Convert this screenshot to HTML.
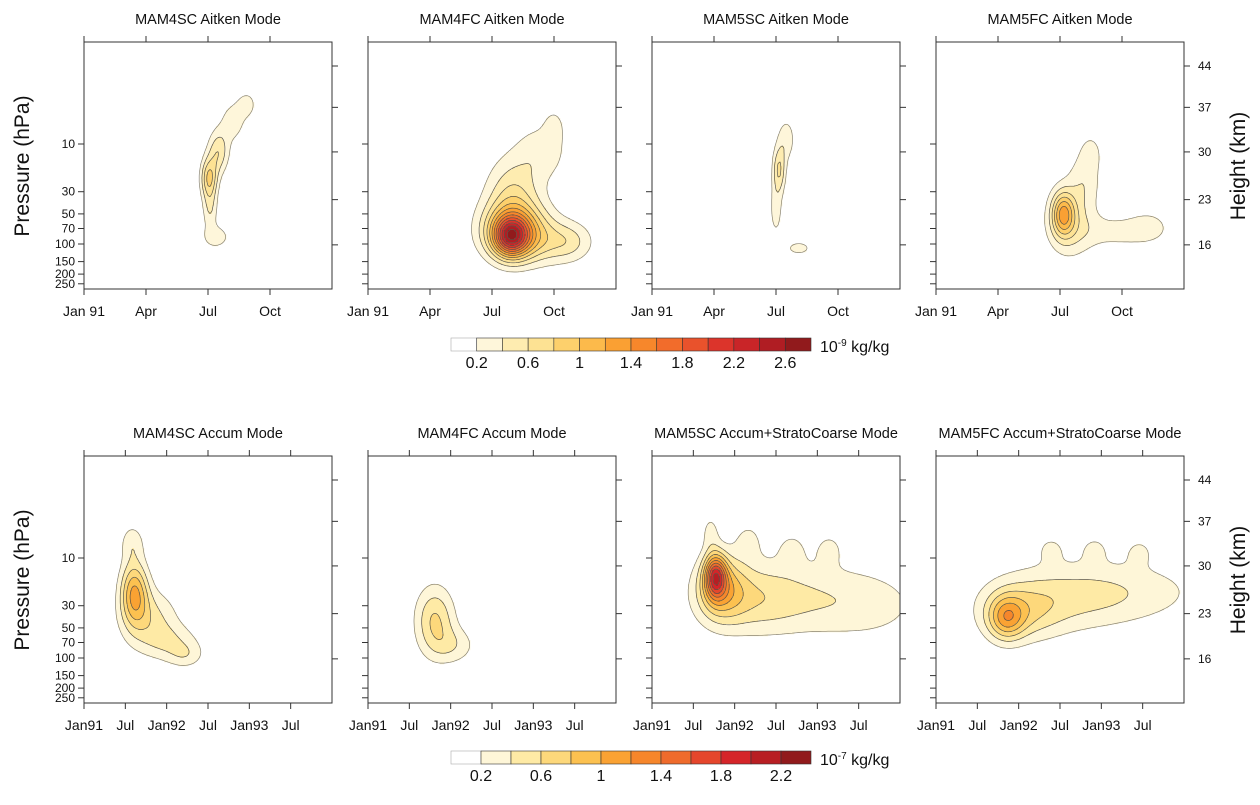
<!DOCTYPE html>
<html><head><meta charset="utf-8"><style>
html,body{margin:0;padding:0;background:#fff;}
svg{display:block;font-family:"Liberation Sans",Arial,sans-serif;}
</style></head><body>
<svg id="chart" width="1260" height="805" viewBox="0 0 1260 805" xmlns="http://www.w3.org/2000/svg"></svg>
<script>
// ---------- data ----------
// blob = [time (months since Jan 1991), pressure (hPa), amplitude, sigma-time (months), sigma-log10p (decades)]
const aitkenMam4sc = [[6.05,22,0.8,0.28,0.14],[6.5,12,0.55,0.35,0.15],[7.2,6,0.3,0.45,0.15],[7.9,4,0.26,0.35,0.1],[6.1,45,0.38,0.25,0.15],[6.4,85,0.33,0.45,0.08]];
const aitkenMam4fc = [[6.9,85,1.5,0.6,0.14],[7.1,70,1.0,1.1,0.2],[8.5,95,0.4,1.4,0.16],[9.8,95,0.25,0.7,0.13],[7.0,30,0.5,0.9,0.25],[8.4,12,0.32,0.9,0.2],[9.0,6.5,0.22,0.35,0.12]];
const aitkenMam5sc = [[6.15,18,0.6,0.22,0.16],[6.5,9,0.33,0.3,0.15],[6.0,45,0.3,0.22,0.2],[7.1,110,0.3,0.45,0.05]];
const aitkenMam5fc = [[6.15,50,0.95,0.38,0.15],[6.5,60,0.45,0.8,0.25],[7.2,22,0.3,0.55,0.2],[7.5,12,0.24,0.35,0.12],[9.0,75,0.28,1.5,0.12],[10.3,65,0.18,0.6,0.1]];
const accumMam4sc = [[7.3,22,0.95,1.4,0.22],[9.5,40,0.45,2.8,0.2],[12.5,70,0.33,3.0,0.13],[14.8,95,0.25,1.8,0.09],[7,7,0.3,1.2,0.13]];
const accumMam4fc = [[9.7,42,0.62,2.0,0.24],[12.5,75,0.3,2.3,0.13]];
const accumMam5sc = [[9.2,15,1.3,1.1,0.15],[10,20,0.7,2.4,0.22],[14,25,0.4,5,0.25],[22,25,0.3,7,0.26],[32,30,0.22,6,0.25],[8.5,5.5,0.25,0.9,0.13],[14,6.5,0.22,1.6,0.14],[20.3,8,0.22,1.5,0.12],[25.7,8,0.22,1.5,0.12]];
const accumMam5fc = [[10.2,40,0.7,1.8,0.15],[12,35,0.45,4,0.2],[18,25,0.33,7,0.25],[28,22,0.28,8,0.22],[16.7,8,0.2,1.5,0.1],[23,8,0.2,1.5,0.1],[29.5,8.5,0.2,1.5,0.1]];

const panelTitles = ["MAM4SC Aitken Mode","MAM4FC Aitken Mode","MAM5SC Aitken Mode","MAM5FC Aitken Mode","MAM4SC Accum Mode","MAM4FC Accum Mode","MAM5SC Accum+StratoCoarse Mode","MAM5FC Accum+StratoCoarse Mode"];
const panelData = [aitkenMam4sc,aitkenMam4fc,aitkenMam5sc,aitkenMam5fc,accumMam4sc,accumMam4fc,accumMam5sc,accumMam5fc];

const topLevels = [0.2,0.4,0.6,0.8,1.0,1.2,1.4,1.6,1.8,2.0,2.2,2.4,2.6];
const topColors = ["#ffffff","#fef6da","#feecb0","#fde293","#fdd06c","#fcba4b","#faa033","#f7872b","#f26c2b","#e9522c","#dc342b","#c92528","#b01d23","#911a1c"];
const topBarLabels = ["0.2","0.6","1","1.4","1.8","2.2","2.6"];
const botLevels = [0.2,0.4,0.6,0.8,1.0,1.2,1.4,1.6,1.8,2.0,2.2];
const botColors = ["#ffffff","#fef6d8","#feeaa5","#fdd87b","#fcc150","#faa233","#f6862b","#ef6b2c","#e5462c","#d52529","#b81e23","#911a1c"];
const botBarLabels = ["0.2","0.6","1","1.4","1.8","2.2"];

const pressureTicks = [10,30,50,70,100,150,200,250];
const heightTicks = [44,37,30,23,16];
const heightTickP = [1.66,4.3,12,36,102];
const topMonthTicks = [0,3,6,9];
const topMonthLabels = ["Jan 91","Apr","Jul","Oct"];
const botMonthTicks = [0,6,12,18,24,30];
const botMonthLabels = ["Jan91","Jul","Jan92","Jul","Jan93","Jul"];

// ---------- layout ----------
const NS = "http://www.w3.org/2000/svg";
const svg = document.getElementById("chart");
const PX = [84,368,652,936], PW = 248, PH = 247;
const PY = [42,456];
const LP_TOP = -0.02, LP_BOT = 2.45;

function mk(tag, attrs, parent){
  const e = document.createElementNS(NS, tag);
  for (const k in attrs) e.setAttribute(k, attrs[k]);
  (parent||svg).appendChild(e);
  return e;
}
function txt(s, attrs, parent){ const e = mk("text", attrs, parent); e.textContent = s; return e; }

function drawPanel(idx){
  const row = idx < 4 ? 0 : 1, col = idx % 4;
  const x0 = PX[col], y0 = PY[row];
  const tmax = row === 0 ? 12 : 36;
  const levels = row === 0 ? topLevels : botLevels;
  const colors = row === 0 ? topColors : botColors;
  const blobs = panelData[idx];
  const xs = t => x0 + t / tmax * PW;
  const ys = p => y0 + (Math.log10(p) - LP_TOP) / (LP_BOT - LP_TOP) * PH;
  const g = mk("g", {});
  
  
  const field = (px, py) => {
    const t = (px - x0) / PW * tmax;
    const lp = LP_TOP + (py - y0) / PH * (LP_BOT - LP_TOP);
    let v = 0;
    for (const b of blobs){
      const dt = (t - b[0]) / b[3], dl = (lp - Math.log10(b[1])) / b[4];
      v += b[2] * Math.exp(-0.5 * (dt*dt + dl*dl));
    }
    return v;
  };
  const S = 2, nx = Math.round(PW / S), ny = Math.round(PH / S) + 1;
  const grid = [];
  for (let j = 0; j <= ny; j++){ const r = []; for (let i = 0; i <= nx; i++) r.push(field(x0 + i*S, y0 + j*S)); grid.push(r); }
  const lvl = v => { let k = 0; while (k < levels.length && v >= levels[k]) k++; return k; };
  const fillG = mk("g", {}, g);
  
  
  for (let j = 0; j < ny; j++){
    let i = 0;
    while (i < nx){
      const k = lvl(field(x0 + (i+0.5)*S, y0 + (j+0.5)*S));
      let i2 = i + 1;
      while (i2 < nx && lvl(field(x0 + (i2+0.5)*S, y0 + (j+0.5)*S)) === k) i2++;
      if (k > 0){
        const hgt = Math.min(S, y0 + PH - (y0 + j*S));
        if (hgt > 0){
          const r = mk("rect", {x: x0 + i*S, y: y0 + j*S, width: (i2 - i)*S + 0.3, height: hgt + 0.3, fill: colors[k]}, fillG);
          
          
        }
      }
      i = i2;
    }
  }
  const lineG = mk("g", {}, g);
  
  
  levels.forEach((L, li) => {
    let d = "";
    for (let j = 0; j < ny; j++) for (let i = 0; i < nx; i++){
      const c = [grid[j][i], grid[j][i+1], grid[j+1][i+1], grid[j+1][i]];
      const pts = [[i,j],[i+1,j],[i+1,j+1],[i,j+1]];
      const hits = [];
      for (let e = 0; e < 4; e++){
        const a = c[e], b = c[(e+1)%4];
        if ((a >= L) !== (b >= L)){
          const f = (L - a) / (b - a);
          const pa = pts[e], pb = pts[(e+1)%4];
          hits.push([x0 + (pa[0] + f*(pb[0]-pa[0]))*S, y0 + (pa[1] + f*(pb[1]-pa[1]))*S]);
        }
      }
      for (let h = 0; h + 1 < hits.length; h += 2){
        if (hits[h][1] > y0 + PH || hits[h+1][1] > y0 + PH) continue;
        d += "M" + hits[h][0].toFixed(1) + " " + hits[h][1].toFixed(1) + "L" + hits[h+1][0].toFixed(1) + " " + hits[h+1][1].toFixed(1);
      }
    }
    if (d){
      const p = mk("path", {d: d, stroke: li === 0 ? "#8a8470" : "#5a5548", "stroke-width": 0.7, fill: "none"}, lineG);
      
      
    }
  });
  const fr = mk("rect", {x: x0, y: y0, width: PW, height: PH, fill: "none", stroke: "#333", "stroke-width": 1}, g);
  
  
  const mt = row === 0 ? topMonthTicks : botMonthTicks;
  const ml = row === 0 ? topMonthLabels : botMonthLabels;
  mt.forEach((m, k) => {
    const x = xs(m);
    mk("line", {x1: x, y1: y0, x2: x, y2: y0 - 6, stroke: "#333"}, g);
    mk("line", {x1: x, y1: y0 + PH, x2: x, y2: y0 + PH + 6, stroke: "#333"}, g);
    const t = txt(ml[k], {x: x, y: y0 + PH + 27, "font-size": 14, "text-anchor": "middle", fill: "#111"}, g);
    
    
  });
  pressureTicks.forEach(p => {
    const y = ys(p);
    mk("line", {x1: x0, y1: y, x2: x0 - 6, y2: y, stroke: "#333"}, g);
    if (col === 0){
      const t = txt(String(p), {x: x0 - 9, y: y + 4, "font-size": 12, "text-anchor": "end", fill: "#111"}, g);
      
      
    }
  });
  heightTickP.forEach((p, k) => {
    const y = ys(p);
    mk("line", {x1: x0 + PW, y1: y, x2: x0 + PW + 6, y2: y, stroke: "#333"}, g);
    if (col === 3){
      const t = txt(String(heightTicks[k]), {x: x0 + PW + 14, y: y + 4, "font-size": 12, fill: "#111"}, g);
      
      
    }
  });
  const tt = txt(panelTitles[idx], {x: x0 + PW/2, y: y0 - 18, "font-size": 14.5, "text-anchor": "middle", fill: "#111"}, g);
  
  
}
for (let i = 0; i < 8; i++) drawPanel(i);

[0,1].forEach(r => {
  const cy = PY[r] + 124;
  const a = txt("Pressure (hPa)", {x: 0, y: 0, "font-size": 21, "text-anchor": "middle", fill: "#111", transform: "translate(29," + cy + ") rotate(-90)"});
  
  
  const b = txt("Height (km)", {x: 0, y: 0, "font-size": 21, "text-anchor": "middle", fill: "#111", transform: "translate(1245," + cy + ") rotate(-90)"});
  
  
});

function colorbar(y, colors, labels, exp){
  const g = mk("g", {});
  
  
  const x0 = 451, w = 360, bw = w / colors.length;
  colors.forEach((c, k) => {
    const r = mk("rect", {x: x0 + k*bw, y: y, width: bw, height: 13, fill: c, stroke: k === 0 ? "#aaa" : "#333", "stroke-width": 0.6}, g);
    
    
  });
  labels.forEach((s, k) => {
    const t = txt(s, {x: x0 + (1 + 2*k)*bw, y: y + 30, "font-size": 16, "text-anchor": "middle", fill: "#111"}, g);
    
    
  });
  const u = mk("text", {x: 820, y: y + 14, "font-size": 16, fill: "#111"}, g);
  
  
  u.innerHTML = '10<tspan dy="-6" font-size="10">' + exp + '</tspan><tspan dy="6"> kg/kg</tspan>';
}
colorbar(338, topColors, topBarLabels, "-9");
colorbar(751, botColors, botBarLabels, "-7");
</script>
</body></html>
